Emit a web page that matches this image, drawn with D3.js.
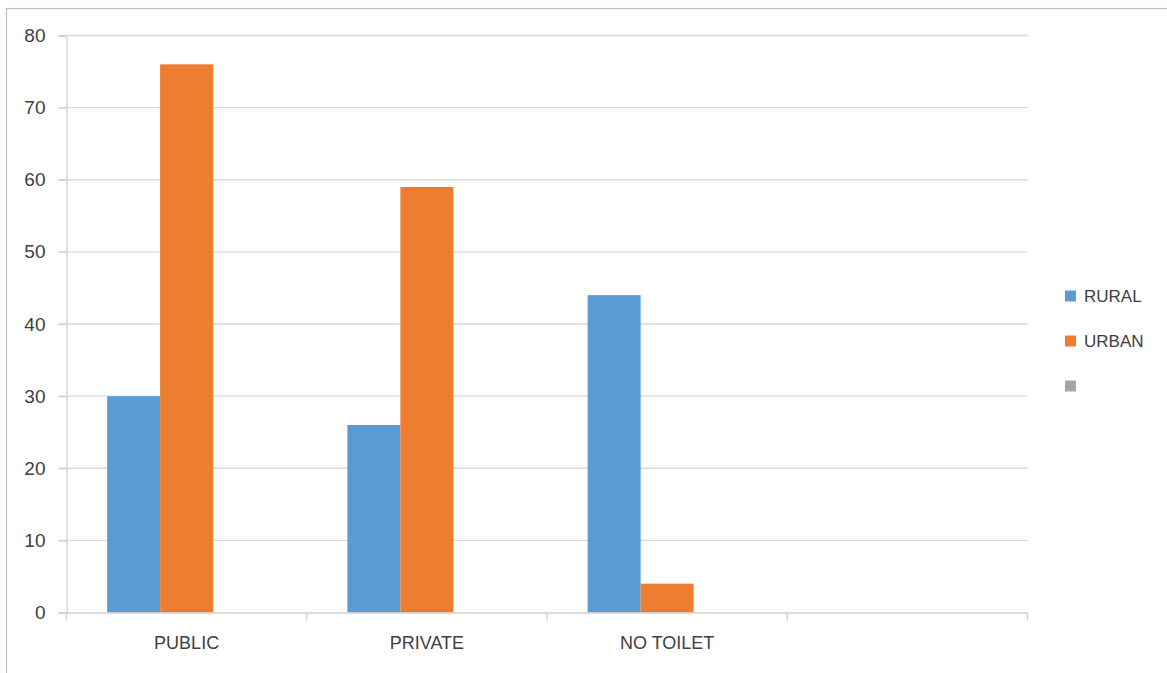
<!DOCTYPE html>
<html><head><meta charset="utf-8">
<script src="https://cdn.jsdelivr.net/npm/d3@7"></script>
<style>body{margin:0;background:#fff}svg{display:block}text{font-family:"Liberation Sans","Open Sans",sans-serif;fill:#404040}</style>
</head><body>
<svg id="c" width="1167" height="673"></svg>
<script>
const categories = ["PUBLIC", "PRIVATE", "NO TOILET", ""];
const seriesNames = ["RURAL", "URBAN", ""];
const rural = [30, 26, 44, null];
const urban = [76, 59, 4, null];
const series3 = [null, null, null, null];
const yTicks = [0, 10, 20, 30, 40, 50, 60, 70, 80];
const colors = ["#5B9BD5", "#ED7D31", "#A5A5A5"];

(function () {
const seriesValues = [rural, urban, series3];
const svg = d3.select("#c");
// outer border
svg.append("rect").attr("x", 6.5).attr("y", 8.5).attr("width", 1180).attr("height", 700)
  .attr("fill", "none").attr("stroke", "#BFBFBF").attr("stroke-width", 1.2);

const pLeft = 66.5, pRight = 1027.5, pTop = 35.5, pBottom = 612.5;
const x = d3.scaleBand().domain(categories).range([pLeft, pRight]).padding(0);
const x1 = d3.scaleBand().domain(d3.range(seriesNames.length)).range([0, x.bandwidth()]).paddingInner(0).paddingOuter(0.7665);
const y = d3.scaleLinear().domain([0, 80]).range([pBottom, pTop]);

// gridlines
svg.append("g").selectAll("line").data(yTicks.filter(d => d > 0)).join("line")
  .attr("x1", pLeft - 8).attr("x2", pRight).attr("y1", d => y(d)).attr("y2", d => y(d))
  .attr("stroke", "#D9D9D9").attr("stroke-width", 1.3);

// y axis
const yAxis = svg.append("g").attr("transform", `translate(${pLeft},0)`)
  .call(d3.axisLeft(y).tickValues(yTicks).tickSize(8).tickPadding(13));
yAxis.select(".domain").attr("stroke", "#D0D0D0").attr("stroke-width", 1.3);
yAxis.selectAll(".tick line").attr("stroke", "#D0D0D0").attr("stroke-width", 1.3);
yAxis.selectAll("text").attr("font-size", 19).style("fill", "#404040");

// bars
const g = svg.append("g");
categories.forEach((c, ci) => {
  seriesValues.forEach((vals, si) => {
    const v = vals[ci];
    if (v == null) return;
    g.append("rect")
      .attr("x", x(c) + x1(si)).attr("width", x1.bandwidth())
      .attr("y", y(v)).attr("height", y(0) - y(v))
      .attr("fill", colors[si]);
  });
});

// x axis
const xAxis = svg.append("g").attr("transform", `translate(0,${pBottom})`)
  .call(d3.axisBottom(x).tickSize(0).tickPadding(24));
xAxis.select(".domain").attr("stroke", "#D0D0D0").attr("stroke-width", 1.3);
xAxis.selectAll("text").attr("font-size", 18).style("fill", "#404040");
// category boundary ticks
const bounds = categories.map(c => x(c)).concat([x(categories[categories.length - 1]) + x.bandwidth()]);
svg.append("g").selectAll("line").data(bounds).join("line")
  .attr("x1", d => d).attr("x2", d => d).attr("y1", pBottom).attr("y2", pBottom + 8)
  .attr("stroke", "#D0D0D0").attr("stroke-width", 1.3);

// legend
const lg = svg.append("g");
seriesNames.forEach((n, i) => {
  const cy = 296 + i * 45;
  lg.append("rect").attr("x", 1065).attr("y", cy - 5.5).attr("width", 11).attr("height", 11).attr("fill", colors[i]);
  lg.append("text").attr("x", 1084).attr("y", cy).attr("dy", "0.35em").attr("font-size", 17).text(n);
});
})();
</script>
</body></html>
